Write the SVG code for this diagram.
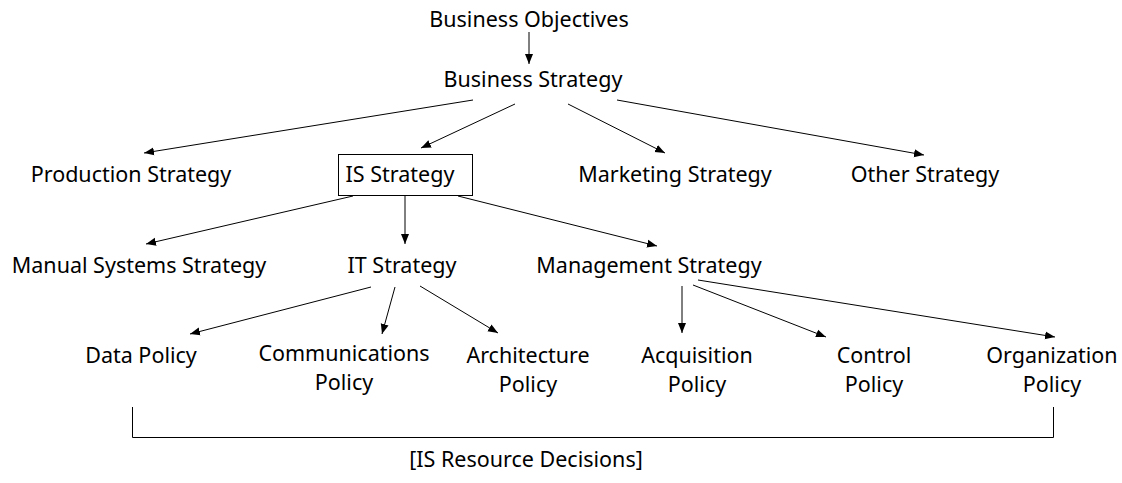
<svg xmlns="http://www.w3.org/2000/svg" width="1122" height="483" viewBox="0 0 1122 483">
<style>
text{font-family:"Noto Sans","Open Sans","Liberation Sans",sans-serif;font-size:21.5px;fill:#000;text-anchor:middle}
.c line{stroke:#000;stroke-width:1;marker-end:url(#ah)}
.b{fill:none;stroke:#000;stroke-width:1}
.br{fill:none;stroke:#000;stroke-width:1}
</style>
<defs>
<marker id="ah" viewBox="0 0 10 10" refX="10" refY="5" markerWidth="10" markerHeight="10" markerUnits="userSpaceOnUse" orient="auto">
<path d="M0,1 L10,5 L0,9 z" fill="#000"/>
</marker>
</defs>
<rect width="1122" height="483" fill="#fff"/>
<g class="c" id="connectors">
<line x1="529" y1="32" x2="529" y2="64"/>
<line x1="473" y1="100" x2="144" y2="153"/>
<line x1="515" y1="104" x2="421" y2="148"/>
<line x1="568" y1="104" x2="665" y2="153"/>
<line x1="617" y1="100" x2="924" y2="155"/>
<line x1="353" y1="196" x2="146" y2="244"/>
<line x1="405" y1="196" x2="405" y2="244"/>
<line x1="458" y1="196" x2="657" y2="246"/>
<line x1="371" y1="287" x2="190" y2="334"/>
<line x1="395" y1="287" x2="382" y2="334"/>
<line x1="420" y1="286" x2="498" y2="333"/>
<line x1="682" y1="286" x2="682" y2="333"/>
<line x1="693" y1="285" x2="826" y2="337"/>
<line x1="698" y1="280" x2="1055" y2="337"/>
</g>
<g id="n-objectives"><text x="529" y="27">Business Objectives</text></g>
<g id="n-business"><text x="533" y="87">Business Strategy</text></g>
<g id="n-production"><text x="131" y="182">Production Strategy</text></g>
<g id="n-is"><rect class="b" x="338.5" y="154.5" width="134" height="41"/><text x="400" y="182">IS Strategy</text></g>
<g id="n-marketing"><text x="675" y="182">Marketing Strategy</text></g>
<g id="n-other"><text x="925" y="182">Other Strategy</text></g>
<g id="n-manual"><text x="139" y="273">Manual Systems Strategy</text></g>
<g id="n-it"><text x="402" y="273">IT Strategy</text></g>
<g id="n-management"><text x="649" y="273">Management Strategy</text></g>
<g id="n-data"><text x="141" y="363">Data Policy</text></g>
<g id="n-comm"><text x="344" y="361">Communications</text><text x="344" y="390">Policy</text></g>
<g id="n-arch"><text x="528" y="363">Architecture</text><text x="528" y="392">Policy</text></g>
<g id="n-acq"><text x="697" y="363">Acquisition</text><text x="697" y="392">Policy</text></g>
<g id="n-control"><text x="874" y="363">Control</text><text x="874" y="392">Policy</text></g>
<g id="n-org"><text x="1052" y="363">Organization</text><text x="1052" y="392">Policy</text></g>
<g id="bracket"><path class="br" d="M132.5,407 V437.5 H1053.5 V407"/><text x="526" y="467">[IS Resource Decisions]</text></g>
</svg>
